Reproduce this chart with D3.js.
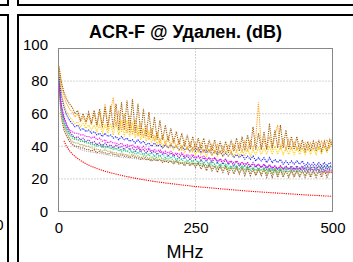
<!DOCTYPE html>
<html>
<head>
<meta charset="utf-8">
<script src="https://cdn.jsdelivr.net/npm/d3@7"></script>
<style>
  body { margin: 0; background: #fff; overflow: hidden; }
  text { font-family: "Liberation Sans", Arial, sans-serif; fill: #000; }
</style>
</head>
<body>
<div id="chart"></div>
<script>
// frequency grid (MHz) shared by the measured pairs
const freq = [1].concat(d3.range(5, 501, 5));

const yTicks = [0, 20, 40, 60, 80, 100];
const xTicks = [0, 250, 500];

// measured pairs, one value per grid point
const brownTop = [89,80,73,69,66,64,60,62,56,60, 55,61,54,62,53,63,52,64,52,65, 51,66,50,67,50,68,49,69,48,66,
  47,63,46,61,45,58,44,56,44,53, 43,51,42,49,41,48,40,47,39,46, 38,45,38,45,37,44,37,44,36,43,
  36,43,36,44,37,45,37,46,37,47, 38,52,38,48,38,49,38,54,39,50, 39,53,39,50,38,46,38,46,37,44,
  37,43,37,43,37,44,37,43,37,44, 40];
const orange = [88,78,71,66,63,61,58,60,55,58, 54,59,53,60,52,61,51,66,50,62, 70,52,62,49,60,48,59,47,57,46,
  55,45,53,44,51,43,49,42,47,41, 46,40,45,39,44,38,43,38,43,37, 42,37,42,36,41,36,41,36,41,36,
  40,36,41,36,41,37,42,37,43,37, 44,38,45,67,38,44,38,46,38,47, 53,38,45,38,44,38,43,38,42,38,
  42,38,42,38,43,38,43,39,44,39, 45];
const gold = [86,74,66,61,58,56,54,55,52,54, 51,53,50,53,49,53,48,53,48,54, 47,55,47,56,46,56,46,55,45,53,
  44,51,43,49,42,47,41,45,40,43, 39,42,38,41,37,40,36,39,36,39, 35,38,35,38,34,38,34,38,34,37,
  34,37,34,37,34,37,34,38,34,38, 34,38,35,39,35,39,35,40,35,40, 35,40,35,39,35,39,35,39,35,39,
  35,39,35,39,35,40,35,40,36,41, 42];
const blue = [84,72,64,59,56,54,52,53,50,51, 49,50,48,49,47,48,46,48,46,47, 45,46,44,46,44,45,43,44,42,44,
  42,43,41,42,40,42,40,41,39,41, 39,41,39,40,38,40,38,39,37,39, 37,39,36,38,36,38,35,37,35,37,
  34,36,34,36,33,35,33,35,32,34, 32,34,31,33,31,33,30,33,30,32, 30,32,29,31,29,31,29,31,29,31,
  28,30,28,30,28,30,28,30,28,30, 29];
const magenta = [78,64,57,53,50,49,48,48,47,47, 46,46,45,46,44,45,43,44,42,43, 42,42,41,42,40,41,40,41,39,40,
  38,40,38,39,37,38,37,38,36,37, 36,37,35,36,35,36,34,35,34,35, 33,34,33,34,32,33,32,33,31,32,
  31,32,30,31,30,31,29,30,29,30, 28,29,28,29,27,29,27,28,27,28, 26,28,26,27,26,27,25,27,25,27,
  25,26,25,26,25,26,24,26,24,26, 25];
const purple = [80,66,58,53,49,47,45,46,44,45, 43,44,42,43,41,42,40,42,40,41, 39,41,39,40,38,40,38,39,37,39,
  37,38,36,38,36,37,35,37,35,36, 34,36,34,35,33,35,33,34,32,34, 32,34,31,33,31,33,30,33,30,32,
  29,32,29,31,28,31,28,30,28,30, 27,30,27,29,27,29,26,29,26,28, 26,28,26,28,26,28,26,28,26,28,
  26,28,26,28,26,28,26,28,26,28, 27];
const cyan = [81,63,55,51,48,46,45,44,44,43, 43,42,42,41,41,40,41,39,40,39, 39,38,39,37,38,37,38,36,37,36,
  37,35,36,35,36,34,35,34,35,33, 34,33,34,32,33,32,33,31,32,31, 32,30,31,30,31,29,31,29,30,28,
  30,28,29,27,29,27,29,27,28,26, 28,26,28,26,28,26,28,25,27,25, 27,25,27,25,27,25,27,25,27,25,
  27,25,27,25,27,25,28,25,28,26, 28];
const green = [80,62,54,50,47,45,44,44,43,43, 42,42,41,41,40,41,39,40,39,39, 38,39,37,38,37,37,36,37,35,36,
  35,35,34,35,33,34,33,34,32,33, 32,33,31,32,31,32,30,31,30,31, 29,31,29,30,28,30,28,29,27,29,
  27,29,26,28,26,28,26,28,25,28, 25,27,25,27,25,27,24,27,24,27, 24,27,24,27,24,27,24,27,24,27,
  24,27,25,27,25,28,25,28,25,28, 28];
const sienna = [76,58,50,46,43,41,40,40,39,39, 38,38,37,38,36,37,36,36,35,36, 35,35,34,35,34,34,33,34,33,33,
  32,33,32,32,31,32,31,32,30,31, 30,31,29,31,29,30,28,30,28,30, 27,30,26,29,25,29,25,28,24,28,
  24,28,23,27,23,27,23,27,22,27, 22,26,22,26,22,26,21,26,21,26, 21,26,21,25,21,25,21,25,21,25,
  21,25,21,25,21,25,21,25,21,25, 23];
const olive = [77,60,52,48,45,43,42,42,41,41, 40,40,39,39,38,38,37,38,37,37, 36,36,35,36,35,35,34,35,34,34,
  33,34,33,33,32,33,32,32,31,32, 31,31,30,31,30,30,29,30,29,29, 28,29,28,28,27,28,26,28,26,27,
  25,27,25,27,24,27,24,26,24,26, 23,26,23,26,23,26,23,26,23,26, 22,26,22,25,22,25,22,25,22,25,
  22,25,22,25,22,25,23,25,23,25, 24];

// limit curves, own frequency points
const grayFreq = [1,2,3,4,6,8,10,12,15,18,21,25,30,40,50,70,100,150,200,250,300,350,400,450,500];
const grayVals = [86,76,70,66,62,58,55,52,49,46,44,42,40,38,37,36,34,32,31,29,27,26,25,24,24];
const redFreq = [10,15,20,25,30,40,50,60,70,80,90,100,125,150,175,200,250,300,350,400,450,500];
const redVals = [43.3,39.8,37.3,35.3,33.8,31.3,29.3,27.7,26.4,25.2,24.2,23.3,21.4,19.8,18.4,17.3,15.3,13.8,12.4,11.3,10.2,9.3];

const series = [
  { f: grayFreq, v: grayVals, color: '#b8b8b8' },
  { f: redFreq, v: redVals, color: '#ff0000' },
  { f: freq, v: sienna, color: '#a0522d' },
  { f: freq, v: olive, color: '#a0a040' },
  { f: freq, v: green, color: '#50d050' },
  { f: freq, v: cyan, color: '#20c0c0' },
  { f: freq, v: purple, color: '#8020c0' },
  { f: freq, v: magenta, color: '#ff00ff' },
  { f: freq, v: blue, color: '#2020ff' },
  { f: freq, v: gold, color: '#ffd000' },
  { f: freq, v: orange, color: '#ffa020' },
  { f: freq, v: brownTop, color: '#a0600a' }
];

const width = 353, height = 262;
const svg = d3.select('#chart').append('svg').attr('width', width).attr('height', height);

const x = d3.scaleLinear().domain([0, 500]).range([58.5, 332.5]);
const y = d3.scaleLinear().domain([0, 100]).range([211.5, 48.5]);

// panel frames
const frame = svg.append('g').attr('fill', 'none').attr('stroke', '#000').attr('stroke-width', 2);
frame.append('path').attr('d', 'M-5,5H8V-5');
frame.append('path').attr('d', 'M18,-5V5H360');
frame.append('path').attr('d', 'M-5,15H8V270');
frame.append('path').attr('d', 'M18,270V15H360');

// clipped tick label from the neighbouring panel
svg.append('text').attr('x', 3.6).attr('y', 230).attr('text-anchor', 'end')
  .attr('font-size', 15).text('500');

// grid
svg.append('g').selectAll('line').data(yTicks.filter(d => d > 0 && d < 100)).enter().append('line')
  .attr('x1', x(0)).attr('x2', x(500)).attr('y1', d => y(d)).attr('y2', d => y(d))
  .attr('stroke', '#aaa').attr('stroke-dasharray', '1,2');
svg.append('line').attr('x1', x(250)).attr('x2', x(250)).attr('y1', y(0)).attr('y2', y(100))
  .attr('stroke', '#aaa').attr('stroke-dasharray', '1,2');

// series
const line = d3.line().x(d => x(d[0])).y(d => y(d[1]));
svg.append('g').selectAll('path').data(series).enter().append('path')
  .attr('d', s => line(s.v.map((v, i) => [s.f[i], v])))
  .attr('fill', 'none')
  .attr('stroke', s => s.color)
  .attr('stroke-width', 1.1)
  .attr('stroke-dasharray', '1.2,1');

// plot frame
svg.append('rect').attr('x', x(0)).attr('y', y(100)).attr('width', x(500) - x(0)).attr('height', y(0) - y(100))
  .attr('fill', 'none').attr('stroke', '#888');

// axes
svg.append('g').attr('transform', 'translate(' + x(0) + ',0)')
  .call(d3.axisLeft(y).tickValues(yTicks).tickSize(0).tickPadding(10.5))
  .call(g => g.select('.domain').remove())
  .call(g => g.selectAll('text').attr('font-size', 15).attr('font-family', null)
    .attr('dy', d => d === 100 ? '0.05em' : '0.32em'));

svg.append('g').attr('transform', 'translate(0,' + y(0) + ')')
  .call(d3.axisBottom(x).tickValues(xTicks).tickSize(0).tickPadding(10.8))
  .call(g => g.select('.domain').remove())
  .call(g => g.selectAll('text').attr('font-size', 15).attr('font-family', null));

svg.append('text').attr('x', 185.5).attr('y', 38).attr('text-anchor', 'middle')
  .attr('font-size', 18).attr('font-weight', 'bold').text('ACR-F @ Удален. (dB)');
svg.append('text').attr('x', 185).attr('y', 257.5).attr('text-anchor', 'middle')
  .attr('font-size', 18).text('MHz');
</script>
</body>
</html>
